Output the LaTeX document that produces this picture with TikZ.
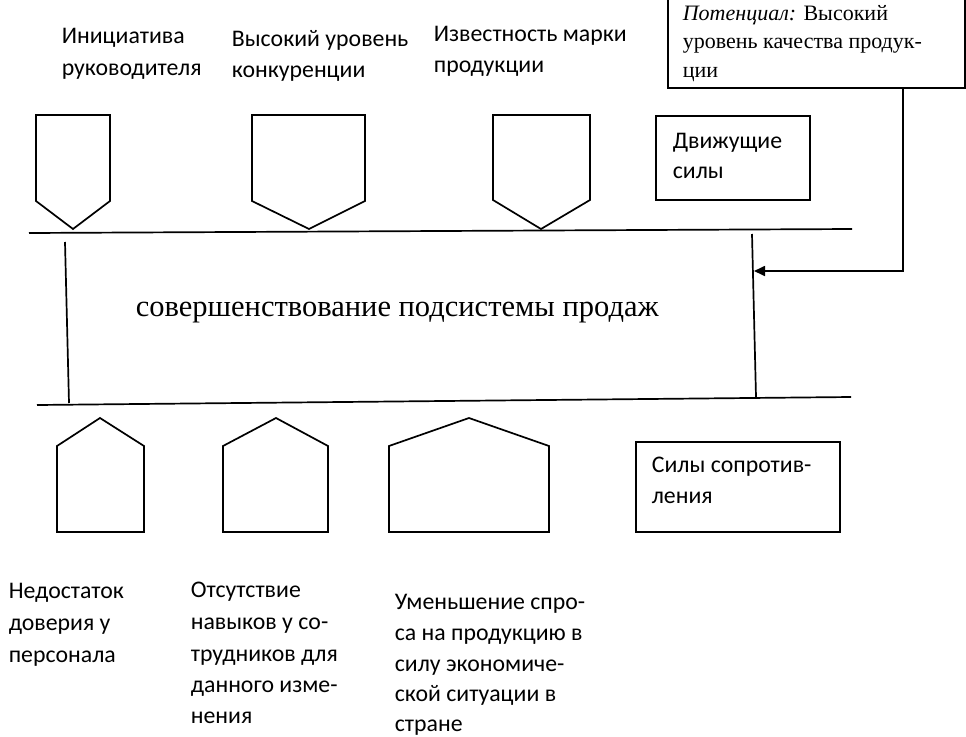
\documentclass[tikz,border=0pt]{standalone}
\usepackage{fontspec}
\setmainfont{Liberation Serif}
\newfontfamily\calfont{Carlito}
\usetikzlibrary{arrows.meta}
\begin{document}
\begin{tikzpicture}[x=1pt,y=-1pt,line width=1.7pt,line join=miter,
  lbl/.style={anchor=base west,inner sep=0pt,font=\calfont\fontsize{23.8}{26}\selectfont},
  ser/.style={anchor=base west,inner sep=0pt,font=\fontsize{22}{24}\selectfont},
  ttl/.style={anchor=base west,inner sep=0pt,font=\fontsize{30.5}{34}\selectfont},
  frame/.style={draw,line width=1.7pt,inner sep=0pt,anchor=north west},
  penta/.style={draw,line width=1.7pt},
  conn/.style={draw,line width=1.7pt}]
\useasboundingbox (0,0) rectangle (966,736);

% top labels
\node[lbl] (t1a) at (61,43) {Инициатива};
\node[lbl] (t1b) at (61,75) {руководителя};
\node[lbl] (t2a) at (231,46) {Высокий уровень};
\node[lbl] (t2b) at (231,77) {конкуренции};
\node[lbl] (t3a) at (433,41) {Известность марки};
\node[lbl] (t3b) at (433,72) {продукции};

% potential box
\node[frame,minimum width=297pt,minimum height=93pt] (pot) at (667,-6) {};
\node[ser] (p1) at (682,20) {\textit{Потенциал:} Высокий};
\node[ser] (p2) at (682,48) {уровень качества продук-};
\node[ser] (p3) at (682,77) {ции};

% driving forces box
\node[frame,minimum width=154pt,minimum height=84pt] (drv) at (655,115) {};
\node[lbl] (d1) at (672,148) {Движущие};
\node[lbl] (d2) at (672,178) {силы};

% top pentagons (pointing down)
\draw[penta] (36,115) -- (110,115) -- (110,201) -- (73,229) -- (36,201) -- cycle;
\draw[penta] (252,115) -- (365,115) -- (365,201) -- (309,229) -- (252,201) -- cycle;
\draw[penta] (493,115) -- (590,115) -- (590,200) -- (541,229) -- (493,200) -- cycle;

% frame lines
\coordinate (tl) at (29,233);
\coordinate (tr) at (852,229);
\coordinate (bl) at (37,405);
\coordinate (br) at (851,397);
\coordinate (lv1) at (65,242);
\coordinate (lv2) at (69,403);
\coordinate (rv1) at (752,234);
\coordinate (rv2) at (756,397);
\draw[conn] (tl) -- (tr);
\draw[conn] (bl) -- (br);
\draw[conn] (lv1) -- (lv2);
\draw[conn] (rv1) -- (rv2);

% arrow from potential box
\coordinate (pa) at (903,87);
\coordinate (pb) at (754,271);
\draw[conn,-{Triangle[length=11pt,width=10pt]}] (pa) |- (pb);

% title
\node[ttl] (title) at (135,316) {совершенствование подсистемы продаж};

% bottom pentagons (pointing up)
\draw[penta] (57,532) -- (57,446) -- (100,418) -- (144,446) -- (144,532) -- cycle;
\draw[penta] (223,532) -- (223,446) -- (276,418) -- (328,446) -- (328,532) -- cycle;
\draw[penta] (389,532) -- (389,446) -- (469,418) -- (549,446) -- (549,532) -- cycle;

% resistance box
\node[frame,minimum width=204pt,minimum height=90pt] (res) at (635,441) {};
\node[lbl] (r1) at (651,472) {Силы сопротив-};
\node[lbl] (r2) at (651,503) {ления};

% bottom labels
\node[lbl] (b1a) at (8,598) {Недостаток};
\node[lbl] (b1b) at (8,630) {доверия у};
\node[lbl] (b1c) at (8,662) {персонала};

\node[lbl] (b2a) at (190,597) {Отсутствие};
\node[lbl] (b2b) at (190,629) {навыков у со-};
\node[lbl] (b2c) at (190,661) {трудников для};
\node[lbl] (b2d) at (190,692) {данного изме-};
\node[lbl] (b2e) at (190,723) {нения};

\node[lbl] (b3a) at (394,609) {Уменьшение спро-};
\node[lbl] (b3b) at (394,640) {са на продукцию в};
\node[lbl] (b3c) at (394,671) {силу экономиче-};
\node[lbl] (b3d) at (394,701) {ской ситуации в};
\node[lbl] (b3e) at (394,731) {стране};
\end{tikzpicture}
\end{document}
